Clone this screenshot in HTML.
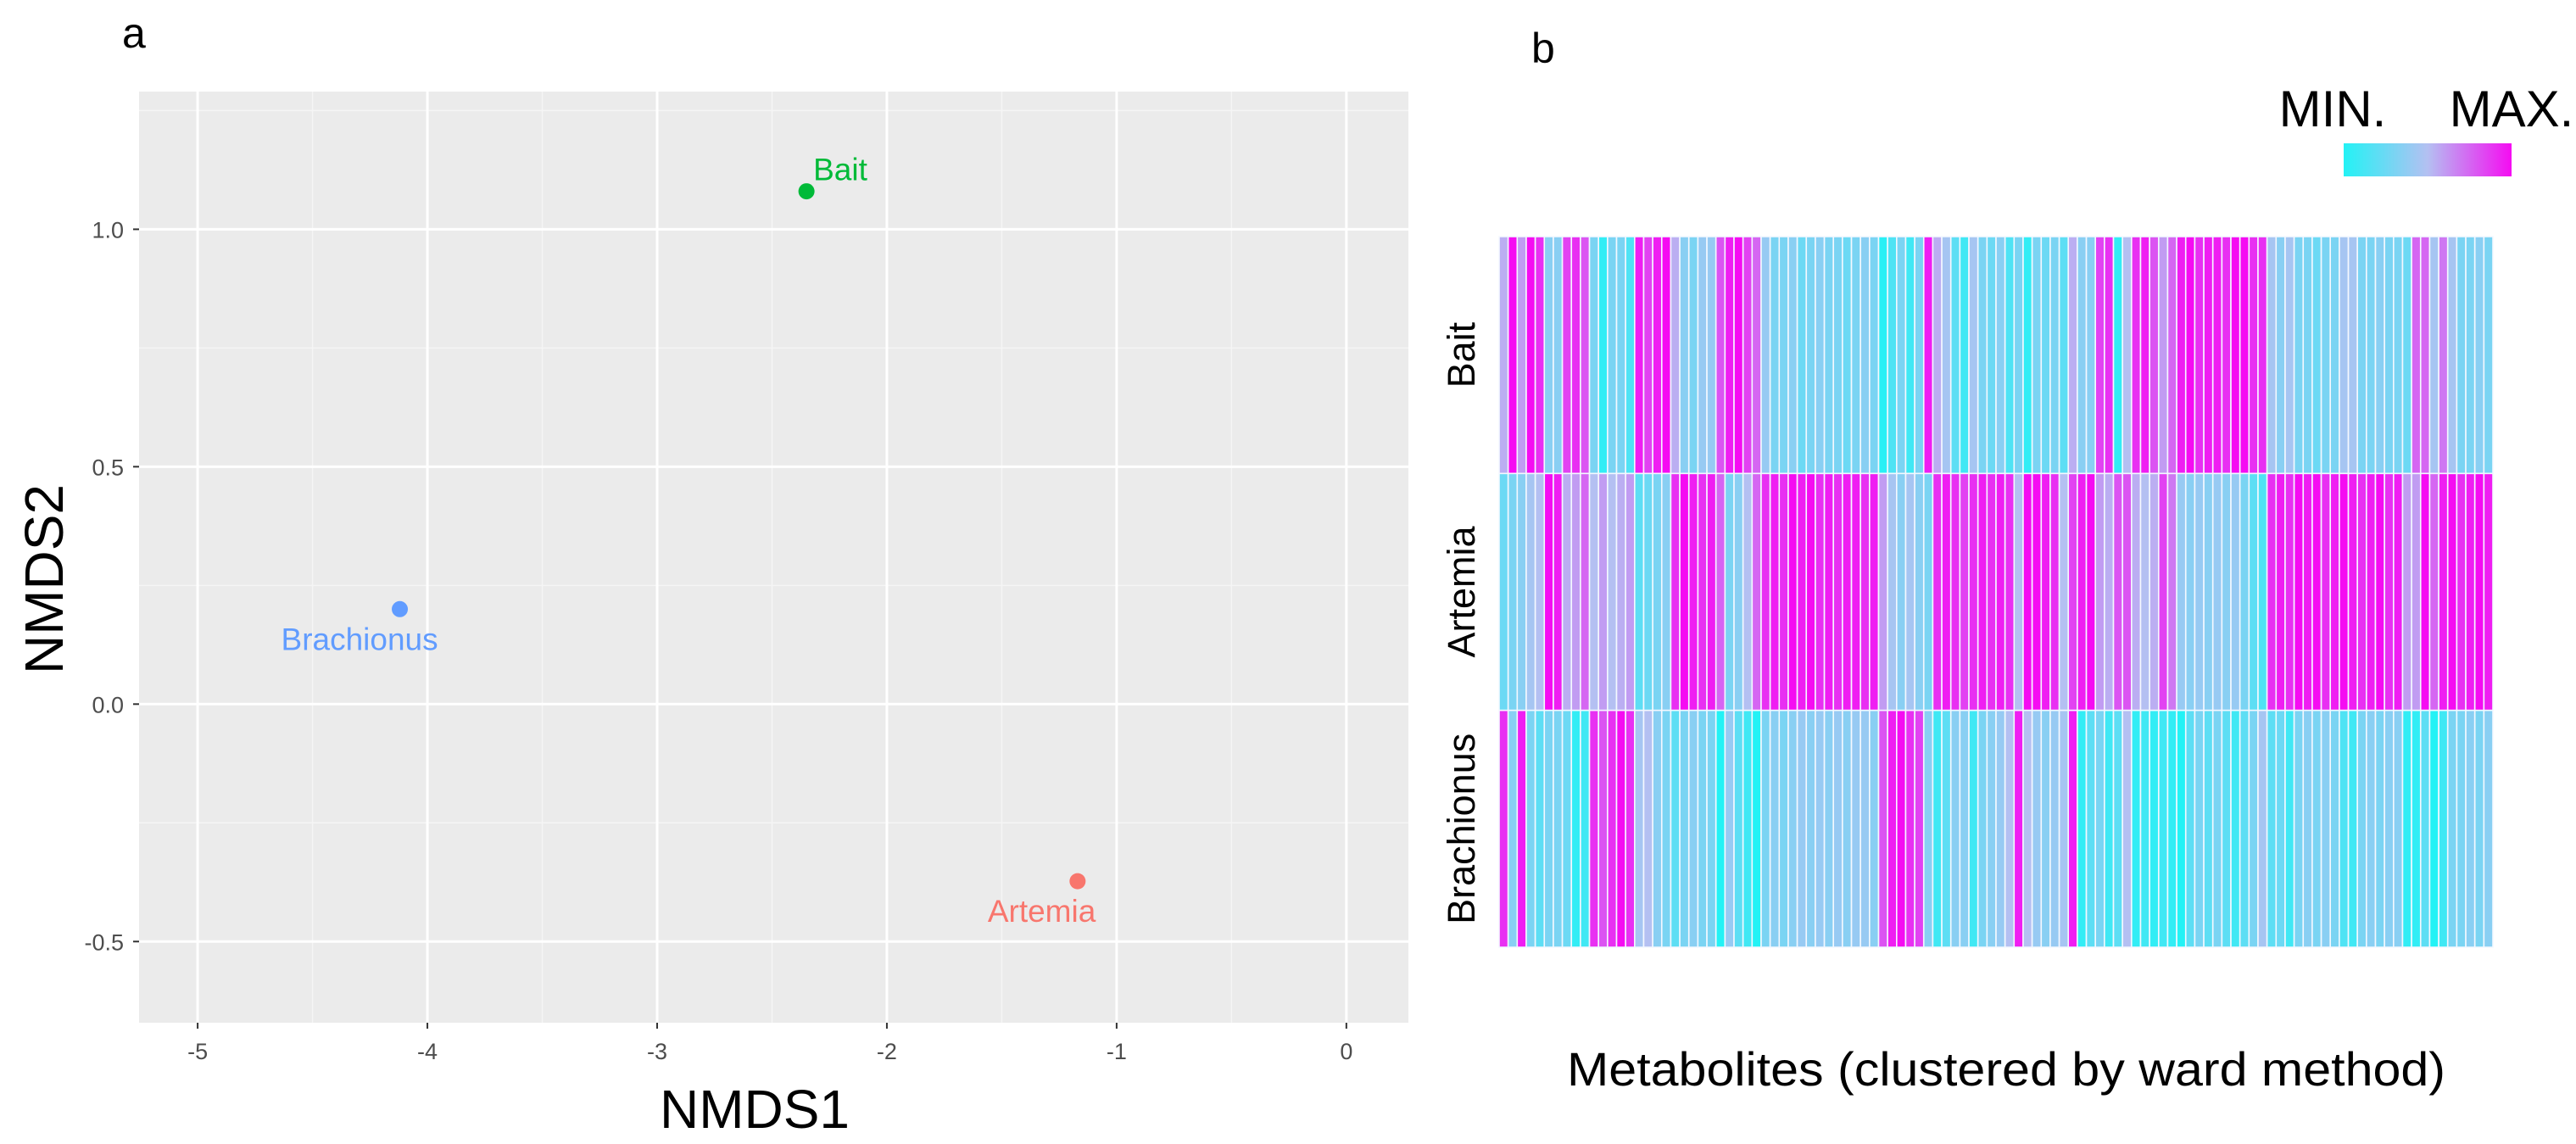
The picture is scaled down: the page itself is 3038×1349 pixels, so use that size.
<!DOCTYPE html>
<html><head><meta charset="utf-8"><style>
html,body{margin:0;padding:0;background:#fff;}
svg{display:block;font-family:"Liberation Sans",Arial,sans-serif;}
</style></head><body>
<svg id="fig" width="3038" height="1349" viewBox="0 0 3038 1349" xmlns="http://www.w3.org/2000/svg">
<g id="panelA"></g>
<g id="panelB"></g>
</svg>
<script>
// ---- Panel a data ----
const groups = ["Bait","Brachionus","Artemia"];
const nmds1 = [-2.35,-4.12,-1.17];
const nmds2 = [1.08,0.20,-0.373];
const pointColors = ["#00ba38","#619cff","#f8766d"];
const xTicks = [-5,-4,-3,-2,-1,0];
const xTickLabels = ["-5","-4","-3","-2","-1","0"];
const yTicks = [-0.5,0,0.5,1.0];
const yTickLabels = ["-0.5","0.0","0.5","1.0"];
// ---- Panel b data ----
const rowNames = ["Bait","Artemia","Brachionus"];
const baitVals = [0.55,1,0.6,1,0.9,0.35,0.35,0.85,0.9,0.8,0.3,0.05,0.3,0.3,0.15,0.95,0.85,0.95,1,0.55,0.35,0.3,0.4,0.4,0.8,0.95,1,0.85,
0.75,0.4,0.3,0.3,0.35,0.25,0.3,0.35,0.3,0.3,0.25,0.3,0.35,0.3,0.02,0.15,0.3,0.1,0.3,0.95,0.55,0.45,0.2,0.1,0.45,0.3,0.25,0.35,
0.15,0.3,0.05,0.3,0.25,0.3,0.2,0.55,0.35,0.35,0.85,0.9,0.05,0.5,0.9,0.95,0.8,0.6,0.75,0.95,1,0.9,0.95,0.95,0.9,1,1,0.9,
0.9,0.45,0.35,0.45,0.3,0.3,0.25,0.3,0.3,0.45,0.45,0.3,0.3,0.35,0.3,0.3,0.25,0.75,0.75,0.45,0.7,0.45,0.3,0.3,0.35,0.3];
const artemiaVals = [0.25,0.3,0.35,0.45,0.5,1,0.95,0.55,0.6,0.75,0.5,0.6,0.5,0.55,0.6,0.2,0.25,0.3,0.35,0.9,1,0.95,0.9,0.95,0.75,0.3,0.35,0.5,
0.75,0.9,0.95,0.9,1,0.95,1,0.9,0.95,0.9,0.95,0.95,0.9,0.95,0.6,0.45,0.35,0.45,0.35,0.3,0.9,0.95,0.9,0.85,0.9,0.95,0.9,0.95,
0.9,0.5,1,1,0.95,0.9,0.5,0.85,0.95,1,0.6,0.55,0.8,0.8,0.55,0.5,0.55,0.85,0.7,0.4,0.35,0.4,0.35,0.4,0.35,0.4,0.3,0.2,
0.15,0.9,0.95,0.9,1,0.95,1,0.9,0.95,1,0.95,0.9,0.95,1,0.9,0.95,0.6,0.6,1,0.75,0.95,1,0.9,0.95,1,0.95];
const brachionusVals = [0.9,0.35,0.95,0.3,0.2,0.3,0.3,0.25,0.05,0.1,0.9,0.8,0.9,1,0.9,0.45,0.5,0.35,0.3,0.2,0.3,0.35,0.3,0.3,0.0,0.4,0.2,0.1,
0.0,0.3,0.35,0.3,0.35,0.4,0.35,0.4,0.35,0.4,0.35,0.4,0.4,0.35,0.8,0.95,1,0.9,0.85,0.35,0.1,0.2,0.35,0.35,0.1,0.3,0.35,0.4,
0.5,0.95,0.5,0.4,0.35,0.4,0.45,0.95,0.05,0.2,0.3,0.1,0.2,0.5,0.05,0.1,0.05,0.1,0.05,0.0,0.2,0.3,0.2,0.3,0.2,0.1,0.2,0.3,
0.45,0.2,0.25,0.1,0.3,0.35,0.3,0.35,0.3,0.15,0.1,0.3,0.35,0.3,0.35,0.35,0.05,0.05,0.2,0.0,0.1,0.3,0.3,0.35,0.3,0.35];

const NS="http://www.w3.org/2000/svg";
function mk(tag, attrs, parent, text){
  const e=document.createElementNS(NS,tag);
  for(const k in attrs) e.setAttribute(k,attrs[k]);
  if(text!==undefined) e.textContent=text;
  parent.appendChild(e); return e;
}
// ---- Panel a ----
const A=document.getElementById('panelA');
const PL=164, PR=1661, PT=108, PB=1206;
const xMin=-5.255, xMax=0.27, yMin=-0.671, yMax=1.29;
const sx=v=>PL+(v-xMin)/(xMax-xMin)*(PR-PL);
const sy=v=>PB-(v-yMin)/(yMax-yMin)*(PB-PT);
let bg=mk('rect',{x:PL,y:PT,width:PR-PL,height:PB-PT,fill:'#ebebeb'},A);


for(let i=0;i<xTicks.length-1;i++){
  const m=(xTicks[i]+xTicks[i+1])/2;
  let g=mk('line',{x1:sx(m),x2:sx(m),y1:PT,y2:PB,stroke:'#f5f5f5','stroke-width':1.5},A);
  
  
}
for(let i=0;i<yTicks.length;i++){
  const m=yTicks[i]+0.25;
  let g=mk('line',{x1:PL,x2:PR,y1:sy(m),y2:sy(m),stroke:'#f5f5f5','stroke-width':1.5},A);
  
  
}
xTicks.forEach((t,i)=>{
  let g=mk('line',{x1:sx(t),x2:sx(t),y1:PT,y2:PB,stroke:'#fff','stroke-width':3},A);
  
  
  let tk=mk('line',{x1:sx(t),x2:sx(t),y1:PB,y2:PB+7,stroke:'#333','stroke-width':2},A);
  
  
  let lb=mk('text',{x:sx(t),y:PB+43,'font-size':27,fill:'#4d4d4d','text-anchor':'middle'},A,xTickLabels[i]);
  
  
});
yTicks.forEach((t,i)=>{
  let g=mk('line',{x1:PL,x2:PR,y1:sy(t),y2:sy(t),stroke:'#fff','stroke-width':3},A);
  
  
  let tk=mk('line',{x1:PL-7,x2:PL,y1:sy(t),y2:sy(t),stroke:'#333','stroke-width':2},A);
  
  
  let lb=mk('text',{x:PL-18,y:sy(t)+10,'font-size':27,fill:'#4d4d4d','text-anchor':'end'},A,yTickLabels[i]);
  
  
});
const labelOff=[[8,-13,'start'],[-43,48,'start'],[-106,48,'start']];
groups.forEach((g,i)=>{
  const cx=sx(nmds1[i]), cy=sy(nmds2[i]);
  let c=mk('circle',{cx:cx,cy:cy,r:9.5,fill:pointColors[i]},A);
  
  
  let t=mk('text',{x:cx+labelOff[i][0]+(i==1?-97:0),y:cy+labelOff[i][1],'font-size':37,fill:pointColors[i],'text-anchor':labelOff[i][2]},A,g);
  
  
});
let xt=mk('text',{x:890,y:1330,'font-size':64,fill:'#000','text-anchor':'middle'},A,'NMDS1');


let yt=mk('text',{x:0,y:0,'font-size':64,fill:'#000','text-anchor':'middle',transform:'translate(74,683) rotate(-90)'},A,'NMDS2');


let pa=mk('text',{x:144,y:56,'font-size':50,fill:'#000'},A,'a');



// ---- Panel b ----
const B=document.getElementById('panelB');
const HL=1768, HR=2940, HT=279, HB=1117;
const rows=[baitVals,artemiaVals,brachionusVals];
function lerp(a,b,t){return a.map((v,k)=>Math.round(v+(b[k]-v)*t));}
const c0=[35,242,245], c1=[180,192,242], c2=[245,12,242];
function col(v){const c=v<0.5?lerp(c0,c1,v/0.5):lerp(c1,c2,(v-0.5)/0.5);return 'rgb('+c.join(',')+')';}
const rh=(HB-HT)/rows.length;
rows.forEach((vals,r)=>{
  const cw=(HR-HL)/vals.length;
  vals.forEach((v,j)=>{
    let c=mk('rect',{x:HL+j*cw,y:HT+r*rh,width:cw,height:rh,fill:col(v),stroke:'#f4f8ff','stroke-width':1.6},B);
    
    
  });
  let t=mk('text',{x:0,y:0,'font-size':45,fill:'#000','text-anchor':'middle',transform:'translate('+1739+','+(HT+(r+0.5)*rh)+') rotate(-90)'},B,rowNames[r]);
  
  
});
const defs=mk('defs',{},B);
const lg=mk('linearGradient',{id:'cbar',x1:0,x2:1,y1:0,y2:0},defs);
mk('stop',{offset:'0','stop-color':col(0)},lg);
mk('stop',{offset:'0.5','stop-color':col(0.5)},lg);
mk('stop',{offset:'1','stop-color':col(1)},lg);
let cb=mk('rect',{x:2764,y:169,width:198,height:39,fill:'url(#cbar)'},B);


let mn=mk('text',{x:2751,y:149,'font-size':60,fill:'#000','text-anchor':'middle'},B,'MIN.');


let mx=mk('text',{x:2962,y:149,'font-size':60,fill:'#000','text-anchor':'middle'},B,'MAX.');


let ht=mk('text',{x:2366,y:1280,'font-size':56,fill:'#000','text-anchor':'middle',textLength:1036,lengthAdjust:'spacingAndGlyphs'},B,'Metabolites (clustered by ward method)');


let pb=mk('text',{x:1806,y:74,'font-size':50,fill:'#000'},B,'b');


</script>
</body></html>
